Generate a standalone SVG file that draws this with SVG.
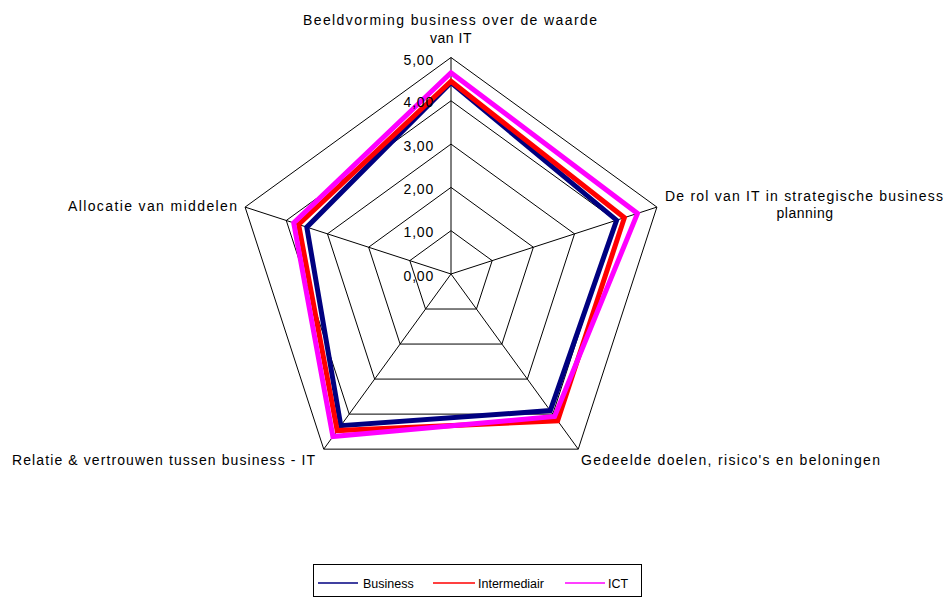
<svg xmlns="http://www.w3.org/2000/svg" width="950" height="597" viewBox="0 0 950 597">
<style>
text{font-family:"Liberation Sans",Arial,sans-serif;font-size:14px;fill:#000}
.grid{fill:none;stroke:#000;stroke-width:1}
.tick{text-anchor:end;letter-spacing:0.8px}
.series{fill:none;stroke-width:5;stroke-linejoin:miter}
.leg{fill:none;stroke-width:1.5}
.lg{font-size:12.5px}
</style>
<rect width="950" height="597" fill="#fff"/>
<g id="grid">
<polygon class="grid" points="451,230.7 492.18,260.62 476.45,309.03 425.55,309.03 409.82,260.62"/>
<polygon class="grid" points="451,187.4 533.36,247.24 501.9,344.06 400.1,344.06 368.64,247.24"/>
<polygon class="grid" points="451,144.1 574.54,233.86 527.35,379.09 374.65,379.09 327.46,233.86"/>
<polygon class="grid" points="451,100.8 615.72,220.48 552.81,414.12 349.19,414.12 286.28,220.48"/>
<polygon class="grid" points="451,57.5 656.9,207.1 578.26,449.15 323.74,449.15 245.1,207.1"/>
<line class="grid" x1="451" y1="274" x2="451" y2="57.5"/>
<line class="grid" x1="451" y1="274" x2="656.9" y2="207.1"/>
<line class="grid" x1="451" y1="274" x2="578.26" y2="449.15"/>
<line class="grid" x1="451" y1="274" x2="323.74" y2="449.15"/>
<line class="grid" x1="451" y1="274" x2="245.1" y2="207.1"/>
</g>
<g id="series">
<polygon id="business" class="series" stroke="#000080" points="451,82.6 616.6,220.2 550.3,410.6 340.8,425.7 306.8,227.2"/>
<polygon id="intermediair" class="series" stroke="#FF0000" points="451,81.3 624.4,217.7 557.6,420.8 337.2,430.6 298.6,224.5"/>
<polygon id="ict" class="series" stroke="#FF00FF" points="451,72.7 637.5,213.4 554.6,416.5 332.9,436.5 293.7,222.9"/>
</g>
<g id="ticks">
<text class="tick" x="434" y="64.5">5,00</text>
<text class="tick" x="434" y="107.3">4,00</text>
<text class="tick" x="434" y="150.6">3,00</text>
<text class="tick" x="434" y="193.9">2,00</text>
<text class="tick" x="434" y="237.2">1,00</text>
<text class="tick" x="434" y="280.5">0,00</text>
</g>
<g id="axis-top">
<text x="303" y="25" textLength="294" lengthAdjust="spacing">Beeldvorming business over de waarde</text>
<text x="451" y="43" text-anchor="middle" letter-spacing="0.5">van IT</text>
</g>
<g id="axis-right">
<text x="665" y="201" textLength="278" lengthAdjust="spacing">De rol van IT in strategische business</text>
<text x="805" y="218" text-anchor="middle" letter-spacing="0.5">planning</text>
</g>
<g id="axis-bottom-right">
<text x="581" y="465" textLength="299" lengthAdjust="spacing">Gedeelde doelen, risico's en beloningen</text>
</g>
<g id="axis-bottom-left">
<text x="12" y="465" textLength="303" lengthAdjust="spacing">Relatie &amp; vertrouwen tussen business - IT</text>
</g>
<g id="axis-left">
<text x="68" y="211" textLength="169" lengthAdjust="spacing">Allocatie van middelen</text>
</g>
<g id="legend">
<rect x="313.5" y="564.5" width="328" height="32" fill="#fff" stroke="#000" stroke-width="1"/>
<line class="leg" x1="318" y1="583" x2="358" y2="583" stroke="#000080"/>
<text class="lg" x="363" y="587.5">Business</text>
<line class="leg" x1="433" y1="583" x2="475" y2="583" stroke="#FF0000"/>
<text class="lg" x="478" y="587.5">Intermediair</text>
<line class="leg" x1="565" y1="583" x2="605" y2="583" stroke="#FF00FF"/>
<text class="lg" x="608" y="587.5">ICT</text>
</g>
</svg>
